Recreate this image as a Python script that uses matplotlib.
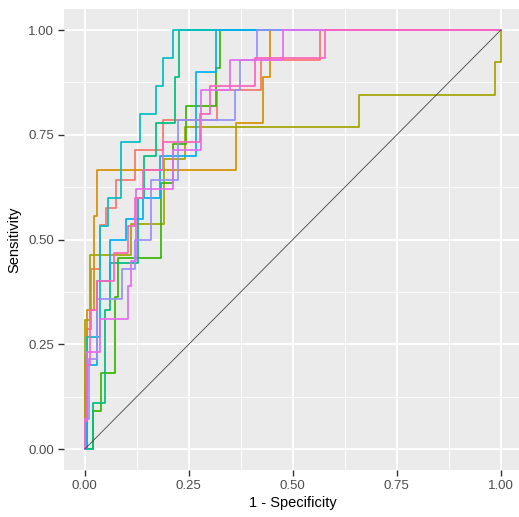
# ROC curves (ggplot-like look) for 10 models
import matplotlib
matplotlib.use('Agg')
import matplotlib.pyplot as plt

plt.rcParams['font.family'] = ['Liberation Sans', 'DejaVu Sans']

# (1 - specificity, sensitivity) turning points
red_fpr = [0, 0.005, 0.015, 0.036, 0.052, 0.076, 0.12, 0.188, 0.317, 0.423, 0.565, 1.0]
red_tpr = [0, 0.143, 0.286, 0.429, 0.535, 0.575, 0.643, 0.714, 0.786, 0.857, 0.929, 1.0]

orange_fpr = [0, 0.005, 0.022, 0.03, 0.363, 0.428, 0.445, 1.0]
orange_tpr = [0, 0.222, 0.333, 0.556, 0.667, 0.778, 0.889, 1.0]

olive_fpr = [0, 0.012, 0.112, 0.19, 0.24, 0.66, 0.985, 1.0, 1.0]
olive_tpr = [0, 0.308, 0.462, 0.538, 0.692, 0.769, 0.846, 0.923, 1.0]

green_fpr = [0, 0.02, 0.04, 0.072, 0.08, 0.184, 0.212, 0.243, 0.316, 0.325, 1.0]
green_tpr = [0, 0, 0.091, 0.182, 0.364, 0.455, 0.636, 0.727, 0.818, 0.909, 1.0]

teal_fpr = [0, 0.02, 0.048, 0.06, 0.128, 0.143, 0.172, 0.216, 0.226, 1.0]
teal_tpr = [0, 0, 0.111, 0.333, 0.444, 0.6, 0.7, 0.778, 0.889, 1.0]

cyan_fpr = [0, 0.005, 0.036, 0.056, 0.088, 0.132, 0.172, 0.188, 0.212, 1.0]
cyan_tpr = [0, 0, 0.267, 0.533, 0.6, 0.733, 0.8, 0.867, 0.933, 1.0]

blue_fpr = [0, 0.005, 0.03, 0.06, 0.1, 0.14, 0.18, 0.268, 0.316, 1.0]
blue_tpr = [0, 0, 0.2, 0.4, 0.5, 0.55, 0.6, 0.7, 0.9, 1.0]

lavender_fpr = [0, 0.01, 0.03, 0.09, 0.12, 0.16, 0.224, 0.36, 0.373, 0.413, 1.0]
lavender_tpr = [0, 0.071, 0.214, 0.357, 0.429, 0.5, 0.643, 0.786, 0.857, 0.929, 1.0]

purple_fpr = [0, 0.005, 0.036, 0.104, 0.112, 0.124, 0.212, 0.28, 0.35, 0.477, 1.0]
purple_tpr = [0, 0.071, 0.232, 0.31, 0.39, 0.45, 0.62, 0.714, 0.857, 0.929, 1.0]

pink_fpr = [0, 0.005, 0.012, 0.03, 0.07, 0.104, 0.12, 0.14, 0.188, 0.276, 0.30, 0.41, 0.578, 1.0]
pink_tpr = [0, 0.067, 0.2, 0.333, 0.4, 0.467, 0.533, 0.6, 0.667, 0.733, 0.8, 0.867, 0.933, 1.0]

curves = [
    (red_fpr, red_tpr, '#F8766D'),
    (orange_fpr, orange_tpr, '#D89000'),
    (olive_fpr, olive_tpr, '#A3A500'),
    (green_fpr, green_tpr, '#39B600'),
    (teal_fpr, teal_tpr, '#00BF7D'),
    (cyan_fpr, cyan_tpr, '#00BFC4'),
    (blue_fpr, blue_tpr, '#00B0F6'),
    (lavender_fpr, lavender_tpr, '#9590FF'),
    (purple_fpr, purple_tpr, '#E76BF3'),
    (pink_fpr, pink_tpr, '#FF62BC'),
]

ticks = [0.0, 0.25, 0.5, 0.75, 1.0]
tick_labels = ['0.00', '0.25', '0.50', '0.75', '1.00']

fig = plt.figure(figsize=(5.19, 5.17), dpi=100)
ax = fig.add_axes([64 / 519, 47 / 517, 457.6 / 519, 460.9 / 517])
ax.set_facecolor('#EBEBEB')

ax.set_xlim(-0.05, 1.05)
ax.set_ylim(-0.05, 1.05)
ax.set_xticks(ticks)
ax.set_yticks(ticks)
ax.set_xticklabels(tick_labels)
ax.set_yticklabels(tick_labels)
ax.set_xticks([0.125, 0.375, 0.625, 0.875], minor=True)
ax.set_yticks([0.125, 0.375, 0.625, 0.875], minor=True)
ax.grid(which='major', color='white', linewidth=1.3)
ax.grid(which='minor', color='white', linewidth=0.6)
ax.set_axisbelow(True)
for s in ax.spines.values():
    s.set_visible(False)
ax.tick_params(which='major', length=4, width=1, color='#333333',
               labelsize=9.5, labelcolor='#4D4D4D', pad=3)
ax.tick_params(which='minor', length=0)

for fpr, tpr, col in curves:
    ax.plot(fpr, tpr, drawstyle='steps-pre', color=col, linewidth=1.25)

ax.plot([0, 1], [0, 1], color='#444444', linewidth=0.6)

ax.set_xlabel('1 - Specificity', fontsize=10.5, labelpad=3)
ax.set_ylabel('Sensitivity', fontsize=10.5, labelpad=5)

fig.savefig('out.png', dpi=100)
